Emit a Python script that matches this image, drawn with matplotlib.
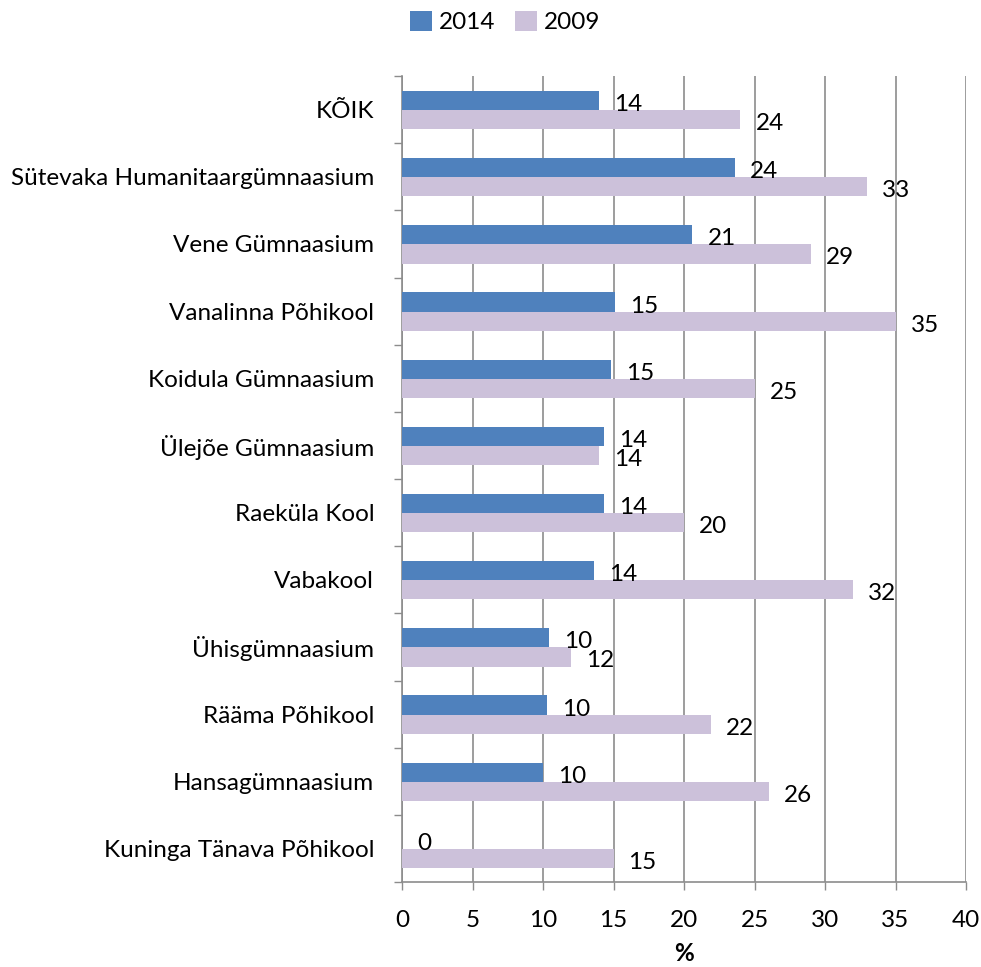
import matplotlib.pyplot as plt
import numpy as np

schools = ["KÕIK", "Sütevaka Humanitaargümnaasium", "Vene Gümnaasium",
           "Vanalinna Põhikool", "Koidula Gümnaasium", "Ülejõe Gümnaasium",
           "Raeküla Kool", "Vabakool", "Ühisgümnaasium", "Rääma Põhikool",
           "Hansagümnaasium", "Kuninga Tänava Põhikool"]
v2014 = [14.0, 23.6, 20.6, 15.1, 14.8, 14.3, 14.3, 13.6, 10.4, 10.3, 10.0, 0.0]
v2009 = [24.0, 33.0, 29.0, 35.0, 25.0, 14.0, 20.0, 32.0, 12.0, 21.9, 26.0, 15.0]

plt.rcParams['font.family'] = ['Lato', 'DejaVu Sans']
grid_col = "#8c8c8c"
fs = 17.5

fig = plt.figure(figsize=(9.81, 9.67), dpi=100)
ax = fig.add_axes([402/981, 85/967, 564/981, 806/967])

y = np.arange(len(schools))
h = 0.285
b1 = ax.barh(y - 0.135, v2014, height=h, color="#4f81bd", label="2014", zorder=3)
b2 = ax.barh(y + 0.15, v2009, height=h, color="#ccc1da", label="2009", zorder=3)

for bars, vals in [(b1, v2014), (b2, v2009)]:
    for bar, v in zip(bars, vals):
        ax.annotate(f"{v:.0f}", (v, bar.get_y() + bar.get_height() / 2),
                    xytext=(15, -4), textcoords='offset pixels',
                    ha='left', va='center', fontsize=fs, color='black', zorder=4)

ax.set_xlim(0, 40)
ax.set_ylim(len(schools) - 0.5, -0.5)
ax.set_xticks(np.arange(0, 41, 5))
ax.set_yticks(y)
ax.set_yticklabels(schools)
ax.set_yticks(np.arange(-0.5, len(schools), 1), minor=True)
ax.tick_params(axis='y', which='major', length=0, pad=20, labelsize=fs)
ax.tick_params(axis='y', which='minor', length=6, color=grid_col, width=1)
ax.tick_params(axis='x', length=6, color=grid_col, width=1, pad=14, labelsize=fs)
ax.xaxis.grid(True, color=grid_col, linewidth=1.2, zorder=0)

for s in ['top', 'right']:
    ax.spines[s].set_visible(False)
for s in ['left', 'bottom']:
    ax.spines[s].set_color(grid_col)
    ax.spines[s].set_linewidth(1.2)

ax.set_xlabel("%", fontweight='bold', fontsize=fs, labelpad=8)

fig.legend(handles=[b1, b2], loc='center', bbox_to_anchor=(505/981, 1 - 22/967),
           ncol=2, frameon=False, fontsize=fs, handlelength=0.9, handleheight=0.9,
           handletextpad=0.3, columnspacing=0.8)

fig.savefig("out.png", dpi=100)
